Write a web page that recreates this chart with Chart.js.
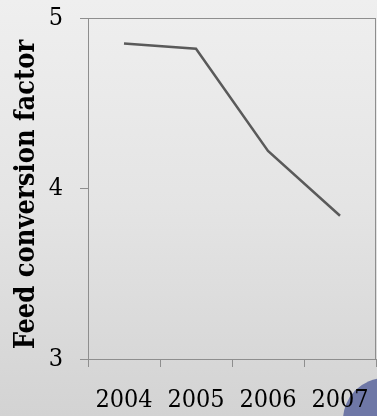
<!DOCTYPE html>
<html>
<head>
<meta charset="utf-8">
<script src="https://cdn.jsdelivr.net/npm/chart.js@4/dist/chart.umd.min.js"></script>
<style>
  html, body { margin: 0; padding: 0; }
  body {
    width: 377px; height: 416px; overflow: hidden; position: relative;
    background: linear-gradient(to bottom, #efefef 0%, #e4e4e4 50%, #d3d3d3 100%);
  }
  #dot {
    position: absolute; left: 343px; top: 378px; width: 84px; height: 84px;
    border-radius: 50%; background: #6e77a6;
  }
  #wrap { position: absolute; left: 0; top: 0; width: 377px; height: 416px; }
</style>
</head>
<body>
<div id="dot"></div>
<div id="wrap"><canvas id="c" width="377" height="416"></canvas></div>
<script>
const categories = ['2004', '2005', '2006', '2007'];
const feedConversion = [4.85, 4.82, 4.22, 3.84];
const yTicks = [3, 4, 5];
const yTitle = 'Feed conversion factor\u2002';

const FONT = "'DejaVu Serif Condensed', 'DejaVu Serif', serif";
const AXIS = '#8e8e8e';

const frame = {
  id: 'frame',
  afterDraw(chart) {
    const { ctx, chartArea: a } = chart;
    ctx.save();
    ctx.strokeStyle = AXIS;
    ctx.lineWidth = 1;
    ctx.beginPath();
    ctx.moveTo(a.left, a.top + 0.5);
    ctx.lineTo(a.right, a.top + 0.5);
    ctx.moveTo(a.right - 0.5, a.top);
    ctx.lineTo(a.right - 0.5, a.bottom);
    ctx.stroke();
    ctx.restore();
  }
};

new Chart(document.getElementById('c'), {
  type: 'line',
  data: {
    labels: categories,
    datasets: [{
      data: feedConversion,
      borderColor: '#5a5a5a',
      borderWidth: 2.5,
      pointRadius: 0,
      tension: 0,
      fill: false
    }]
  },
  options: {
    responsive: false,
    animation: false,
    layout: { padding: { top: 18, right: 1, left: 0, bottom: 0 } },
    plugins: { legend: { display: false }, tooltip: { enabled: false } },
    scales: {
      x: {
        offset: true,
        grid: { offset: true, drawOnChartArea: false, tickLength: 8, color: AXIS, tickColor: AXIS },
        border: { color: AXIS, width: 1 },
        ticks: { color: '#000', font: { family: FONT, size: 25 }, padding: 18, maxRotation: 0 },
        afterFit(s) { s.height = 57; s.paddingLeft = 0; s.paddingRight = 0; }
      },
      y: {
        min: 3, max: 5,
        afterBuildTicks(s) { s.ticks = yTicks.map(v => ({ value: v })); },
        grid: { drawOnChartArea: false, tickLength: 8, color: AXIS, tickColor: AXIS },
        border: { color: AXIS, width: 1 },
        ticks: { color: '#000', font: { family: FONT, size: 25 }, padding: 17 },
        title: {
          display: true, text: yTitle, color: '#000',
          font: { family: FONT, size: 27, weight: 'bold' },
          padding: { top: 11, bottom: 0 }
        },
        afterFit(s) { s.width = 88; s.paddingTop = 0; s.paddingBottom = 0; }
      }
    }
  },
  plugins: [frame]
});
</script>
</body>
</html>
